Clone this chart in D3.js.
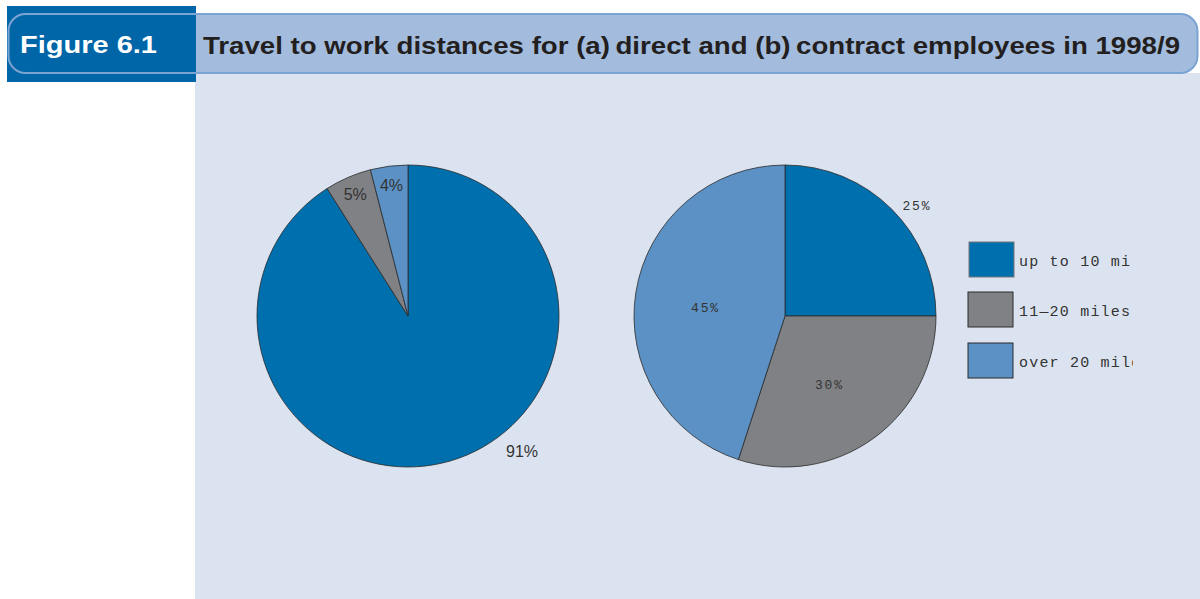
<!DOCTYPE html>
<html><head><meta charset="utf-8">
<script src="https://cdn.jsdelivr.net/npm/d3@7/dist/d3.min.js"></script>
<style>body{margin:0;background:#fff;}svg{display:block;}</style>
</head><body>
<script>
const categories = ["up to 10 miles", "11\u201420 miles", "over 20 miles"];
const directValues = [91, 5, 4];
const contractValues = [25, 30, 45];
const colors = ["#006fad", "#808184", "#5b91c4"];

const W = 1200, H = 599;
const svg = d3.select("body").append("svg").attr("width", W).attr("height", H);

// panel
svg.append("rect").attr("x", 195).attr("y", 73).attr("width", W - 195).attr("height", H - 73).attr("fill", "#dce3f0");
// header
svg.append("rect").attr("x", 7).attr("y", 6).attr("width", 189).attr("height", 76).attr("fill", "#0066a8");
svg.append("path").attr("d", "M196,14 H1181 A17,17 0 0 1 1198,31 V56 A17,17 0 0 1 1181,73 H196 Z").attr("fill", "#a3bcdd");
svg.append("rect").attr("x", 8.5).attr("y", 14).attr("width", 1189).attr("height", 59).attr("rx", 17).attr("ry", 17)
  .attr("fill", "none").attr("stroke", "#7ba4d2").attr("stroke-width", 2);
svg.append("text").attr("x", 20).attr("y", 53).attr("fill", "#fff").attr("font-family", "Liberation Sans, Arial, sans-serif")
  .attr("font-weight", "bold").attr("font-size", 23).attr("textLength", 137).attr("lengthAdjust", "spacingAndGlyphs").text("Figure 6.1");
svg.append("text").attr("x", 203).attr("y", 54).attr("fill", "#231f20").attr("font-family", "Liberation Sans, Arial, sans-serif")
  .attr("font-weight", "bold").attr("font-size", 24).attr("textLength", 977).attr("lengthAdjust", "spacingAndGlyphs")
  .text("Travel to work distances for (a)\u2009direct and (b)\u2009contract employees in 1998/9");

const R = 151;
const pie = d3.pie().sort(null).value(d => d);
const arc = d3.arc().innerRadius(0).outerRadius(R);

function drawPie(values, cx, cy, labelCfg, font, fsize, ls) {
  const g = svg.append("g").attr("transform", `translate(${cx},${cy})`);
  const arcs = pie(values);
  g.selectAll("path").data(arcs).join("path")
    .attr("d", arc).attr("fill", (d, i) => colors[i])
    .attr("stroke", "#2b2b2b").attr("stroke-width", 0.8);
  g.selectAll("text").data(arcs).join("text")
    .attr("transform", (d, i) => {
      const c = labelCfg[i];
      const a = (d.startAngle + d.endAngle) / 2 + c.da * Math.PI / 180;
      const r = c.r * R;
      return `translate(${r * Math.sin(a)},${-r * Math.cos(a)})`;
    })
    .attr("text-anchor", "middle").attr("dy", "0.35em")
    .attr("font-family", font).attr("font-size", fsize).attr("letter-spacing", ls).attr("fill", "#333")
    .text(d => d.value + "%");
}

drawPie(directValues, 408, 316, [{r: 1.17, da: -24}, {r: 0.88, da: 0}, {r: 0.87, da: 0}], "Liberation Sans, Arial, sans-serif", 16, 0);
drawPie(contractValues, 785, 316, [{r: 1.14, da: 5}, {r: 0.54, da: 3}, {r: 0.53, da: -2.5}], "Liberation Mono, Courier New, monospace", 13, 1.8);

// legend
const defs = svg.append("defs");
defs.append("clipPath").attr("id", "lc").append("rect").attr("x", 960).attr("y", 230).attr("width", 173).attr("height", 160);
const leg = svg.append("g").attr("clip-path", "url(#lc)");
const ly = [242, 292, 343];
const lx = [969, 968, 968];
categories.forEach((c, i) => {
  leg.append("rect").attr("x", lx[i]).attr("y", ly[i]).attr("width", 45).attr("height", 35)
    .attr("fill", colors[i]).attr("stroke", i === 0 ? "#777" : "#2b2b2b").attr("stroke-width", 1);
  leg.append("text").attr("x", 1019).attr("y", ly[i] + 24).attr("font-family", "Liberation Mono, Courier New, monospace")
    .attr("font-size", 15).attr("letter-spacing", 1.2).attr("fill", "#333").text(c);
});
</script>
</body></html>
